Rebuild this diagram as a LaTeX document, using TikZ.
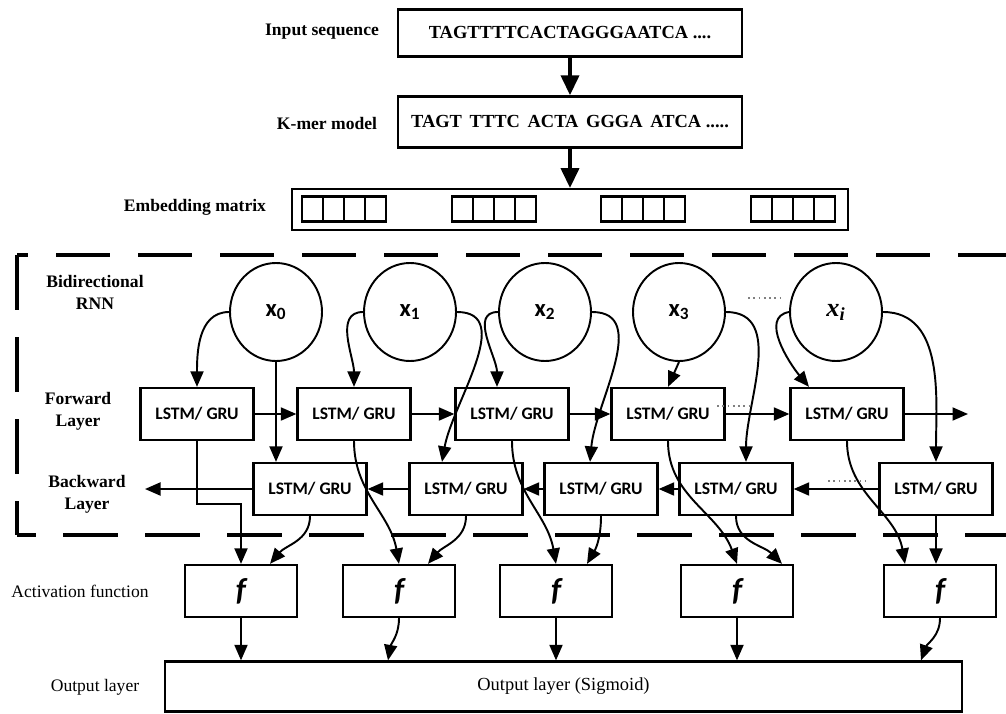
\documentclass[tikz,border=0pt]{standalone}
\usepackage{fontspec}
\setmainfont{Liberation Serif}
\newfontfamily\lstmfont{Carlito}
\usetikzlibrary{arrows.meta, positioning, shapes.geometric}

\begin{document}
\begin{tikzpicture}[
    every node/.style={font=\fontsize{10}{12.5}\selectfont, align=center},
    arr/.style={-{Triangle[length=3.1mm, width=2.6mm]}, line width=1.1pt},
    bigarr/.style={-{Triangle[length=4mm, width=3.6mm]}, line width=2.2pt},
    lbl/.style={font=\fontsize{10}{12.5}\selectfont\bfseries},
    seqbox/.style={draw, line width=1.4pt, minimum width=6.88cm, font=\fontsize{10.5}{12}\selectfont\bfseries},
    cell/.style={draw, line width=1.3pt, minimum width=0.42cm, minimum height=0.5cm, inner sep=0pt},
    xnode/.style={draw, ellipse, line width=1.1pt, minimum width=1.84cm, minimum height=1.96cm, font=\fontsize{14}{16}\selectfont\lstmfont\bfseries},
    rnnbox/.style={draw, line width=1.3pt, minimum width=2.26cm, minimum height=1.04cm, font=\fontsize{10}{12}\selectfont\lstmfont\bfseries},
    actbox/.style={draw, line width=1.3pt, minimum width=2.24cm, minimum height=1.04cm, font=\fontsize{18}{20}\selectfont\lstmfont\bfseries\itshape},
    dots/.style={dotted, gray, line width=1pt}
]
\useasboundingbox (0,0) rectangle (20.12,-14.26);

\node[lbl] at (6.44,-0.64) {Input sequence};
\node[seqbox, minimum height=0.94cm] (in) at (11.40,-0.66) {TAGTTTTCACTAGGGAATCA ....};
\node[lbl] at (6.54,-2.46) {K-mer model};
\node[seqbox, minimum height=1.02cm] (kmer) at (11.40,-2.44) {TAGT\, TTTC\, ACTA\, GGGA\, ATCA .....};
\node[lbl] at (3.90,-4.14) {Embedding matrix};
\node[draw, line width=1.1pt, minimum width=11.12cm, minimum height=0.82cm] (emb) at (11.40,-4.19) {};
\foreach \g [count=\gi] in {6.04, 9.04, 12.02, 15.02}
  \foreach \k in {0,...,3}
    \node[cell] (c\gi\k) at (\g+0.21+0.42*\k,-4.18) {};

\draw[bigarr] (in) -- (kmer);
\draw[bigarr] (kmer) -- (emb);

\draw[line width=1.9pt, dash pattern=on 1.08cm off 0.56cm, dash phase=0.86cm] (0.34,-5.10) -- (20.3,-5.10);
\draw[line width=1.9pt, dash pattern=on 1.10cm off 0.54cm] (0.34,-5.10) -- (0.34,-10.70);
\draw[line width=1.9pt, dash pattern=on 1.10cm off 0.54cm, dash phase=0.72cm] (0.34,-10.70) -- (20.3,-10.70);

\node[lbl] at (1.90,-5.84) {Bidirectional\\RNN};
\node[lbl] at (1.56,-8.22) {Forward\\Layer};
\node[lbl] at (1.74,-9.88) {Backward\\Layer};
\node at (1.60,-11.82) {Activation function};
\node at (1.90,-13.74) {Output layer};

\node[xnode] (x0) at (5.52,-6.24) {x\textsubscript{0}};
\node[xnode] (x1) at (8.20,-6.24) {x\textsubscript{1}};
\node[xnode] (x2) at (10.90,-6.24) {x\textsubscript{2}};
\node[xnode] (x3) at (13.58,-6.24) {x\textsubscript{3}};
\node[xnode, font=\fontsize{15}{16}\selectfont\bfseries\itshape] (xi) at (16.72,-6.24) {x\textsubscript{i}};

\foreach \x [count=\i from 0] in {3.94, 7.08, 10.24, 13.36, 16.94}
  \node[rnnbox] (fw\i) at (\x,-8.28) {LSTM/ GRU};
\foreach \x [count=\i from 0] in {6.20, 9.32, 12.02, 14.72, 18.72}
  \node[rnnbox] (bw\i) at (\x,-9.78) {LSTM/ GRU};
\foreach \x [count=\i from 0] in {4.82, 7.98, 11.12, 14.74, 18.80}
  \node[actbox] (act\i) at (\x,-11.82) {f};
\node[draw, line width=1.3pt, minimum width=15.94cm, minimum height=1.0cm, font=\fontsize{10.5}{12}\selectfont] (out) at (11.27,-13.73) {Output layer (Sigmoid)};

\coordinate (fwend) at (19.36,-8.28);
\coordinate (bwend) at (2.90,-9.78);
\foreach \i/\j in {0/1, 1/2, 2/3, 3/4}
  \draw[arr] (fw\i) -- (fw\j);
\foreach \i/\j in {1/0, 2/1, 3/2, 4/3}
  \draw[arr] (bw\i) -- (bw\j);
\draw[arr] (fw4) -- (fwend);
\draw[arr] (bw0) -- (bwend);
\draw[dots] (14.34,-8.12) -- (15.04,-8.12);
\draw[dots] (16.56,-9.62) -- (17.30,-9.62);
\draw[dots] (14.96,-5.96) -- (15.66,-5.96);

\draw[arr] (x0.west) to[out=180, in=90] (fw0.north);
\draw[arr] (x0.south) -- (x0.south |- bw0.north);
\draw[arr] (x1.west) to[out=180, in=90] (fw1.north);
\draw[arr] (x1.east) to[out=0, in=80] ([xshift=-0.48cm]bw1.north);
\draw[arr] (x2.west) to[out=180, in=90] ([xshift=-0.30cm]fw2.north);
\draw[arr] (x2.east) to[out=0, in=85] ([xshift=-0.22cm]bw2.north);
\draw[arr] (x3.south) -- (fw3.north);
\draw[arr] (x3.east) to[out=0, in=90] ([xshift=0.20cm]bw3.north);
\draw[arr] (xi.west) to[out=190, in=130] ([xshift=-0.76cm]fw4.north);
\draw[arr] (xi.east) to[out=0, in=90] (bw4.north);

\draw[arr] (fw0.south) -- ++(0,-1.26) -| (act0.north);
\draw[arr] (bw0.south) to[out=-90, in=50] ([xshift=0.58cm]act0.north);
\draw[arr] (fw1.south) to[out=-90, in=100] (act1.north);
\draw[arr] (bw1.south) to[out=-90, in=50] ([xshift=0.58cm]act1.north);
\draw[arr] (fw2.south) to[out=-90, in=100] (act2.north);
\draw[arr] (bw2.south) to[out=-90, in=60] ([xshift=0.62cm]act2.north);
\draw[arr] (fw3.south) to[out=-90, in=110] (act3.north);
\draw[arr] (bw3.south) to[out=-90, in=135] ([xshift=0.90cm]act3.north);
\draw[arr] (fw4.south) to[out=-90, in=100] ([xshift=-0.70cm]act4.north);
\draw[arr] (bw4.south) -- (bw4.south |- act4.north);

\draw[arr] (act0.south) -- (act0.south |- out.north);
\draw[arr] (act1.south) to[out=-90, in=80] ([xshift=-0.22cm]act1.south |- out.north);
\draw[arr] (act2.south) -- (act2.south |- out.north);
\draw[arr] (act3.south) -- (act3.south |- out.north);
\draw[arr] (act4.south) to[out=-90, in=70] ([xshift=-0.38cm]act4.south |- out.north);
\end{tikzpicture}
\end{document}
